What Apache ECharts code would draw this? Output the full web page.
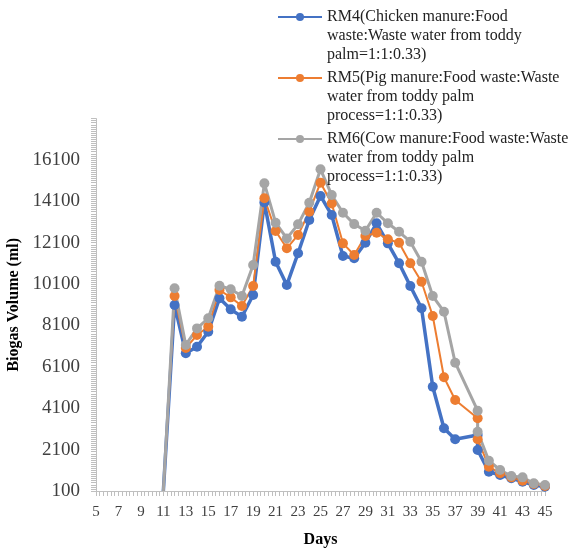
<!DOCTYPE html>
<html>
<head>
<meta charset="utf-8">
<script src="https://cdn.jsdelivr.net/npm/echarts@6/dist/echarts.min.js"></script>
<style>
  html, body { margin: 0; padding: 0; background: #fff; }
  #chart { width: 571px; height: 549px; }
</style>
</head>
<body>
<div id="chart"></div>
<script>
// Days on which biogas volume was recorded (day 39 has two readings)
const days = [11, 12, 13, 14, 15, 16, 17, 18, 19, 20, 21, 22, 23, 24, 25, 26, 27, 28,
  29, 30, 31, 32, 33, 34, 35, 36, 37, 39, 39, 40, 41, 42, 43, 44, 45];

const seriesNames = [
  'RM4(Chicken manure:Food\nwaste:Waste water from toddy\npalm=1:1:0.33)',
  'RM5(Pig manure:Food waste:Waste\nwater from toddy palm\nprocess=1:1:0.33)',
  'RM6(Cow manure:Food waste:Waste\nwater from toddy palm\nprocess=1:1:0.33)'
];

// Biogas volume (ml)
const rm4 = [100, 9090, 6760, 7075, 7800, 9415, 8880, 8525, 9575, 14050, 11180, 10060,
  11590, 13200, 14360, 13440, 11460, 11350, 12100, 13040, 12070, 11105, 10010, 8930,
  5140, 3130, 2600, 2810, 2080, 1030, 875, 715, 550, 390, 310];
const rm5 = [100, 9525, 7010, 7640, 8040, 9815, 9460, 9040, 10010, 14250, 12670, 11830,
  12475, 13600, 15000, 14000, 12070, 11510, 12425, 12585, 12265, 12100, 11105, 10215,
  8560, 5600, 4500, 3615, 2600, 1275, 955, 760, 600, 440, 340];
const rm6 = [100, 9900, 7160, 7960, 8450, 10020, 9850, 9525, 11025, 14970, 13070, 12310,
  12990, 14035, 15650, 14410, 13550, 13000, 12680, 13550, 13040, 12630, 12150, 11180,
  9525, 8765, 6300, 3980, 2965, 1565, 1115, 825, 760, 470, 390];

const colors = ['#4472C4', '#ED7D31', '#A5A5A5'];
const lineWidths = [3.5, 2, 3];
const serif = '"Liberation Serif", "Times New Roman", serif';

function pairs(values) {
  return values.map(function (v, i) {
    const item = { value: [days[i], v] };
    if (i === 0) item.symbol = 'none';
    return item;
  });
}

const chart = echarts.init(document.getElementById('chart'), null, { renderer: 'canvas' });

// Each legend entry is its own block so the icon sits beside the first text line
const legendTops = [-30, 31, 92];

chart.setOption({
  backgroundColor: '#ffffff',
  animation: false,
  color: colors,
  grid: { left: 96, right: 26, top: 118.6, bottom: 58, containLabel: false, outerBoundsMode: 'none' },
  legend: seriesNames.map(function (name, i) {
    return {
      data: [name],
      orient: 'vertical',
      left: 277,
      top: legendTops[i],
      padding: 0,
      itemWidth: 44,
      itemHeight: 10,
      itemGap: 0,
      textGap: 2,
      formatter: function (n) { return '\n\n' + n; },
      textStyle: {
        fontFamily: serif,
        fontSize: 16,
        lineHeight: 18.8,
        color: '#222'
      }
    };
  }),
  xAxis: {
    type: 'value',
    min: 5,
    max: 45,
    interval: 1,
    name: 'Days',
    nameLocation: 'middle',
    nameGap: 41,
    nameTextStyle: { fontFamily: serif, fontSize: 16, fontWeight: 'bold', color: '#000' },
    axisLine: { show: true, lineStyle: { color: '#BFBFBF', width: 1 } },
    axisTick: { show: true, length: 5, lineStyle: { color: '#BFBFBF' } },
    minorTick: { show: true, splitNumber: 3, length: 5, lineStyle: { color: '#BFBFBF' } },
    splitLine: { show: false },
    axisLabel: {
      margin: 14,
      fontFamily: serif,
      fontSize: 15,
      color: '#404040',
      formatter: function (v) { return v % 2 === 1 ? String(v) : ''; }
    }
  },
  yAxis: {
    type: 'value',
    min: 100,
    max: 18100,
    interval: 2000,
    name: 'Biogas Volume (ml)',
    nameLocation: 'middle',
    nameGap: 66,
    nameTextStyle: { fontFamily: serif, fontSize: 16, fontWeight: 'bold', color: '#000' },
    axisLine: { show: true, lineStyle: { color: '#BFBFBF', width: 1 } },
    axisTick: { show: true, length: 5, lineStyle: { color: '#BFBFBF' } },
    minorTick: { show: true, splitNumber: 20, length: 5, lineStyle: { color: '#BFBFBF' } },
    splitLine: { show: false },
    axisLabel: {
      margin: 16,
      fontFamily: serif,
      fontSize: 19,
      color: '#404040',
      showMaxLabel: false,
      formatter: function (v) { return String(v); }
    }
  },
  series: [rm4, rm5, rm6].map(function (vals, i) {
    return {
      name: seriesNames[i],
      type: 'line',
      data: pairs(vals),
      symbol: 'circle',
      symbolSize: 10,
      showSymbol: true,
      lineStyle: { width: lineWidths[i], color: colors[i] },
      itemStyle: { color: colors[i] },
      clip: false
    };
  })
});
</script>
</body>
</html>
